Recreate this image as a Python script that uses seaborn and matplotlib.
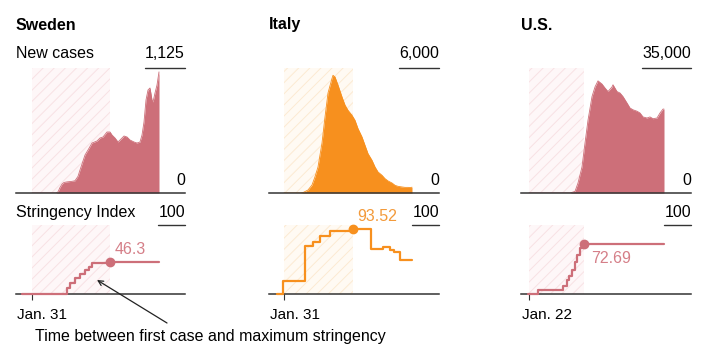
import matplotlib
matplotlib.use("Agg")
import matplotlib.pyplot as plt
import seaborn as sns
import pandas as pd
from matplotlib.lines import Line2D

# ---------------- data (days counted from Jan 1, 2020 = 0) ----------------
countries = ["Sweden", "Italy", "U.S."]
first_case_label = ["Jan. 31", "Jan. 31", "Jan. 22"]
first_case_day = [30, 30, 21]
case_max = [1125, 6000, 35000]
case_max_label = ["1,125", "6,000", "35,000"]

swe_case_days = [30, 54, 56, 58, 60, 62, 65, 70, 73, 76, 78, 83, 86, 90, 95, 98, 101, 105,
                 108, 110, 113, 116, 119, 122, 125, 128, 132, 135, 138, 140, 142, 144, 146,
                 148, 150, 151, 153, 155, 157]
swe_case_vals = [0, 0, 10, 50, 80, 95, 100, 105, 110, 150, 207, 342, 387, 450, 468, 495, 504,
                 549, 549, 522, 495, 459, 486, 513, 504, 477, 459, 450, 459, 522, 639, 837, 927,
                 945, 837, 819, 900, 972, 1090]

ita_case_days = [30, 46, 49, 54, 58, 61, 64, 68, 71, 74, 78, 79, 81, 84, 88, 91, 94, 98, 101,
                 104, 108, 111, 114, 118, 121, 124, 128, 131, 134, 138, 141, 144, 148, 151,
                 154, 157, 158]
ita_case_vals = [0, 0, 20, 144, 384, 780, 1250, 2400, 3650, 4800, 5500, 5650, 5570, 5180, 4610,
                 4220, 3970, 3730, 3490, 3090, 2690, 2290, 1890, 1570, 1250, 1010, 850, 690, 580,
                 480, 370, 320, 290, 270, 270, 260, 280]

us_case_days = [21, 62, 67, 70, 74, 77, 80, 84, 87, 90, 94, 97, 100, 104, 105, 109, 112, 115,
                119, 122, 125, 129, 132, 135, 139, 142, 145, 149, 152, 155, 156]
us_case_vals = [0, 0, 450, 2800, 7300, 14000, 20400, 27000, 29700, 31400, 30500, 29400, 28400,
                29700, 30300, 28400, 28000, 27000, 25200, 23800, 23300, 22900, 22400, 21300,
                21000, 21300, 20800, 21000, 22400, 23500, 23500]

swe_str_days = [20, 65, 68, 73, 78, 83, 87, 90, 108, 157]
swe_str_vals = [0, 8.3, 15.5, 22.7, 28.5, 34.8, 39.6, 44.4, 46.3, 46.3]

ita_str_days = [23, 29, 51, 59, 66, 76, 99, 117, 129, 136, 140, 146, 158]
ita_str_vals = [0, 19.4, 70.0, 75.8, 84.5, 92.0, 93.52, 65.2, 67.7, 63.8, 60.4, 49.3, 49.3]

us_str_days = [20, 30, 55, 59, 61, 64, 67, 69, 72, 76, 156]
us_str_vals = [0, 5.6, 11.1, 20.0, 26.0, 34.8, 46.8, 56.5, 66.2, 72.69, 72.69]

case_days = [swe_case_days, ita_case_days, us_case_days]
case_vals = [swe_case_vals, ita_case_vals, us_case_vals]
str_days = [swe_str_days, ita_str_days, us_str_days]
str_vals = [swe_str_vals, ita_str_vals, us_str_vals]

# ---------------- style ----------------
colors = ["#cd6f79", "#f7901e", "#cd6f79"]
label_colors = ["#d57f88", "#f39a3a", "#d57f88"]
shade_bg = ["#fef7f8", "#fffaf3", "#fef7f8"]
shade_hatch = ["#f8e1e4", "#fcead2", "#f8e1e4"]
dark = "#333333"

sns.set_theme(style="white")
plt.rcParams["font.family"] = ["Liberation Sans", "DejaVu Sans"]
plt.rcParams["hatch.linewidth"] = 0.7

W, H = 723, 363
fig = plt.figure(figsize=(W / 100, H / 100), dpi=100)
fig.patch.set_facecolor("white")


def fx(px):
    return px / W


def fy(py):
    return 1 - py / H


col_left = [16, 269, 521]
col_width = [169, 170, 170]
xlims = [(14, 183), (15, 185), (13, 183)]
FS = 11.5

fig.canvas.draw()
renderer = fig.canvas.get_renderer()


def underline(text_artist, right_px, y_px):
    wpx = text_artist.get_window_extent(renderer).width
    fig.add_artist(Line2D([fx(right_px - wpx), fx(right_px)], [fy(y_px), fy(y_px)],
                          color=dark, lw=1.0))


for i in range(3):
    l, w = col_left[i], col_width[i]
    r = l + w
    ax_t = fig.add_axes([fx(l), fy(193), w / W, 125 / H])
    ax_b = fig.add_axes([fx(l), fy(294), w / W, 69 / H])

    # -------- new cases area --------
    dfc = pd.DataFrame({"day": case_days[i], "cases": case_vals[i]})
    ax_t.fill_between(dfc["day"], dfc["cases"], color=colors[i], lw=0, zorder=1)
    sns.lineplot(data=dfc, x="day", y="cases", ax=ax_t, color=colors[i], lw=0.6,
                 estimator=None, zorder=1)

    # -------- stringency --------
    dfs = pd.DataFrame({"day": str_days[i], "idx": str_vals[i]})
    smax = dfs["idx"].max()
    smax_day = dfs.loc[dfs["idx"] == smax, "day"].iloc[0]
    sns.lineplot(data=dfs, x="day", y="idx", ax=ax_b, color=colors[i], lw=1.6,
                 estimator=None, drawstyle="steps-post", clip_on=False, zorder=3)
    ax_b.plot([smax_day], [smax], "o", ms=6, color=colors[i], clip_on=False, zorder=4)

    # shaded period between first case and maximum stringency
    for ax in (ax_t, ax_b):
        ax.axvspan(first_case_day[i], smax_day, facecolor=shade_bg[i],
                   edgecolor=shade_hatch[i], hatch="///", lw=0, zorder=0)

    ax_t.set_xlim(*xlims[i])
    ax_b.set_xlim(*xlims[i])
    ax_t.set_ylim(0, case_max[i])
    ax_b.set_ylim(0, 100)

    for ax in (ax_t, ax_b):
        ax.set_facecolor("none")
        for s in ("top", "right", "left"):
            ax.spines[s].set_visible(False)
        ax.spines["bottom"].set_color(dark)
        ax.spines["bottom"].set_linewidth(1.1)
        ax.set_yticks([])
        ax.set_xlabel("")
        ax.set_ylabel("")
    ax_t.set_xticks([])
    ax_b.set_xticks([first_case_day[i]])
    ax_b.set_xticklabels([""])
    ax_b.tick_params(axis="x", bottom=True, length=4.5, width=0.8, color=dark,
                     direction="out", pad=0)

    # -------- texts --------
    fig.text(fx(l), fy(29.5), countries[i], fontsize=FS, fontweight="bold",
             color="black", va="baseline", ha="left")
    t = fig.text(fx(r), fy(58.5), case_max_label[i], fontsize=FS, color="black",
                 va="baseline", ha="right")
    underline(t, r, 68)
    fig.text(fx(r), fy(185.3), "0", fontsize=FS, color="black", va="baseline", ha="right")
    t = fig.text(fx(r), fy(217.3), "100", fontsize=FS, color="black", va="baseline",
                 ha="right")
    underline(t, r, 225)
    fig.text(fx(l + 1), fy(319), first_case_label[i], fontsize=11, color="black",
             va="baseline", ha="left")

    lab = f"{smax:g}"
    if i == 2:
        ax_b.annotate(lab, (smax_day, smax), xytext=(5, -5.5), textcoords="offset points",
                      fontsize=FS, color=label_colors[i], ha="left", va="top",
                      annotation_clip=False)
    else:
        ax_b.annotate(lab, (smax_day, smax), xytext=(3, 5.8), textcoords="offset points",
                      fontsize=FS, color=label_colors[i], ha="left", va="baseline",
                      annotation_clip=False)

    if i == 0:
        fig.text(fx(16), fy(58.5), "New cases", fontsize=FS, color="black",
                 va="baseline", ha="left")
        fig.text(fx(16), fy(217.3), "Stringency Index", fontsize=FS, color="black",
                 va="baseline", ha="left")
        ax_b.annotate("", xy=(fx(97), fy(280)), xycoords="figure fraction",
                      xytext=(fx(167), fy(323)), textcoords="figure fraction",
                      arrowprops=dict(arrowstyle="->", color="#222222", lw=0.9,
                                      shrinkA=0, shrinkB=0, mutation_scale=9),
                      annotation_clip=False)

fig.text(fx(35), fy(340.7), "Time between first case and maximum stringency",
         fontsize=FS, color="black", va="baseline", ha="left")

fig.savefig("out.png", dpi=100, facecolor="white")
